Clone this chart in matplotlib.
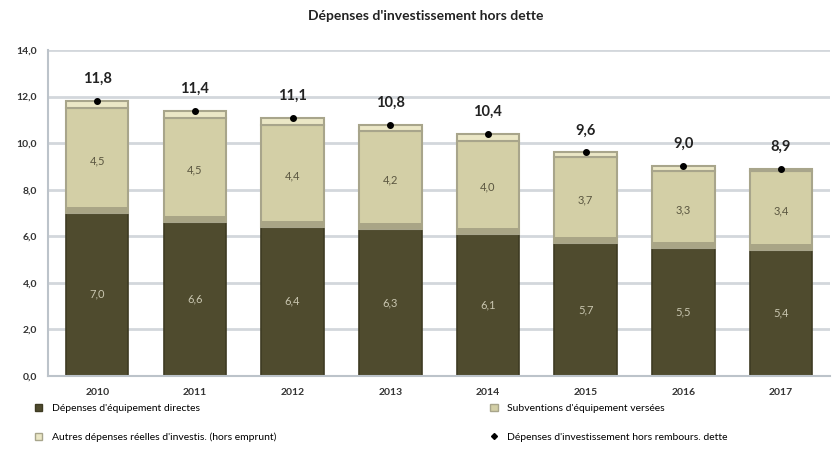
import matplotlib
matplotlib.use("Agg")
import matplotlib.pyplot as plt
from matplotlib.lines import Line2D
from matplotlib.patches import Patch

plt.rcParams['font.family'] = ['Lato', 'DejaVu Sans']

years = ['2010', '2011', '2012', '2013', '2014', '2015', '2016', '2017']
directes = [7.0, 6.6, 6.4, 6.3, 6.1, 5.7, 5.5, 5.4]
subventions = [4.5, 4.5, 4.4, 4.2, 4.0, 3.7, 3.3, 3.4]
autres = [0.3, 0.3, 0.3, 0.3, 0.3, 0.2, 0.2, 0.1]
totaux = [11.8, 11.4, 11.1, 10.8, 10.4, 9.6, 9.0, 8.9]

c_dark = '#4f4b2e'
c_sub = '#d3cfa6'
c_autres = '#ebe7c6'
c_edge = '#a8a58b'

def fr(v):
    return f"{v:.1f}".replace('.', ',')

fig = plt.figure(figsize=(8.34, 4.55), dpi=100)
ax = fig.add_axes([0.058, 0.174, 0.937, 0.716])

x = list(range(len(years)))
w = 0.64
ax.bar(x, directes, w, color=c_dark, edgecolor='#3e3b22', linewidth=1.2, zorder=2)
ax.bar(x, subventions, w, bottom=directes, color=c_sub, edgecolor=c_edge, linewidth=1.5, zorder=2)
bott = [d + s for d, s in zip(directes, subventions)]
ax.bar(x, autres, w, bottom=bott, color=c_autres, edgecolor=c_edge, linewidth=1.5, zorder=2)
# darker band at the bottom of the light segment (bevel look)
ax.bar(x, [0.25] * len(x), w, bottom=directes, color='#a9a586', linewidth=0, zorder=3)

ax.plot(x, totaux, 'o', color='black', ms=4, zorder=4)

for i in x:
    ax.text(i, directes[i] / 2, fr(directes[i]), ha='center', va='center',
            fontsize=8, color='#c9c6b0', zorder=5)
    ax.text(i, directes[i] + subventions[i] / 2, fr(subventions[i]), ha='center', va='center',
            fontsize=8, color='#5a5640', zorder=5)
    ax.text(i, totaux[i] + 0.65, fr(totaux[i]), ha='center', va='bottom',
            fontsize=10.5, fontweight='bold', color='#222222', zorder=5)

ax.set_ylim(0, 14)
ax.set_xlim(-0.5, len(years) - 0.5)
ax.set_yticks([0, 2, 4, 6, 8, 10, 12, 14])
ax.set_yticklabels([fr(v) for v in [0, 2, 4, 6, 8, 10, 12, 14]], fontsize=7.5, fontweight='bold', color='#333333')
ax.set_xticks(x)
ax.set_xticklabels(years, fontsize=7.5, fontweight='bold', color='#333333')
ax.tick_params(axis='y', length=0, pad=8)
ax.tick_params(axis='x', length=0, pad=9)
ax.grid(axis='y', color='#d3d7dc', linewidth=2, zorder=0)
ax.set_axisbelow(True)
for s in ['top', 'right']:
    ax.spines[s].set_visible(False)
ax.spines['left'].set_color('#bcc3ca')
ax.spines['left'].set_linewidth(1.5)
ax.spines['bottom'].set_color('#bcc3ca')
ax.spines['bottom'].set_linewidth(1.5)

fig.text(0.51, 0.965, "Dépenses d'investissement hors dette", ha='center', va='center',
         fontsize=10, fontweight='bold', color='#222222')

h1 = Patch(facecolor=c_dark, edgecolor='#3e3b22', label="Dépenses d'équipement directes")
h2 = Patch(facecolor=c_sub, edgecolor=c_edge, label="Subventions d'équipement versées")
h3 = Patch(facecolor=c_autres, edgecolor=c_edge, label="Autres dépenses réelles d'investis. (hors emprunt)")
h4 = Line2D([], [], marker='D', color='black', linestyle='none', ms=3,
            label="Dépenses d'investissement hors rembours. dette")
leg_kw = dict(frameon=False, fontsize=7.5, handlelength=0.7, handleheight=0.7,
              labelspacing=1.9, handletextpad=0.9, borderaxespad=0, borderpad=0)
fig.legend(handles=[h1, h3], loc='upper left', bbox_to_anchor=(0.042, 0.113), **leg_kw)
fig.legend(handles=[h2, h4], loc='upper left', bbox_to_anchor=(0.588, 0.113), **leg_kw)

fig.savefig('out.png', dpi=100)
